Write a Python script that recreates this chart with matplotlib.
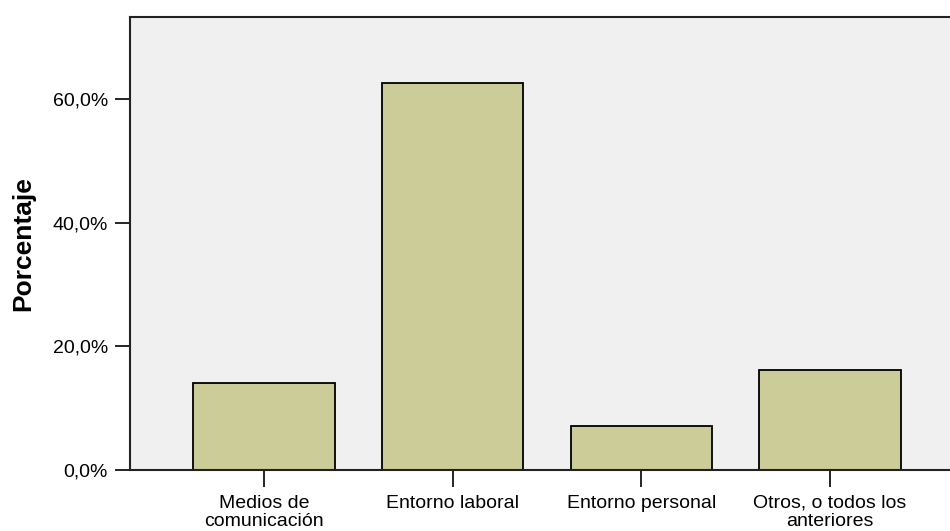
import matplotlib
matplotlib.use('Agg')
import matplotlib.pyplot as plt
from matplotlib.ticker import FuncFormatter

plt.rcParams['font.family'] = ['Liberation Sans', 'DejaVu Sans']

# Origen de la información (porcentaje de respuestas)
categorias = ['Medios de\ncomunicación', 'Entorno laboral', 'Entorno personal', 'Otros, o todos los\nanteriores']
porcentajes = [14.0, 62.7, 7.1, 16.2]
yticks = [0, 20, 40, 60]

fig = plt.figure(figsize=(9.5, 5.31), dpi=100)
# the plot area runs past the right edge of the figure
ax = fig.add_axes([130 / 950, 61 / 531, 834 / 950, 453 / 531])
ax.set_facecolor('#f0f0f0')

pos = list(range(len(categorias)))
ax.bar(pos, porcentajes, width=0.75, color='#cccc99', edgecolor='black', linewidth=1.3, zorder=2)

ax.set_xlim(-0.71, len(categorias) - 1 + 0.71)
ax.set_ylim(0, 73.3)
ax.set_yticks(yticks)
ax.yaxis.set_major_formatter(FuncFormatter(lambda v, p: f'{v:.1f}%'.replace('.', ',')))
ax.set_xticks(pos)
ax.set_xticklabels(categorias, fontsize=14, linespacing=1.1)
ax.tick_params(axis='y', labelsize=14, length=11, width=1.2, pad=5)
ax.tick_params(axis='x', length=12, width=1.2, pad=6)

for side in ['left', 'bottom', 'top']:
    ax.spines[side].set_linewidth(1.5)
    ax.spines[side].set_color('#222222')
ax.spines['right'].set_visible(False)

ax.set_ylabel('Porcentaje', fontsize=19, fontweight='bold')
ax.yaxis.set_label_coords(-0.114, 0.5)

fig.savefig('out.png', dpi=100)
